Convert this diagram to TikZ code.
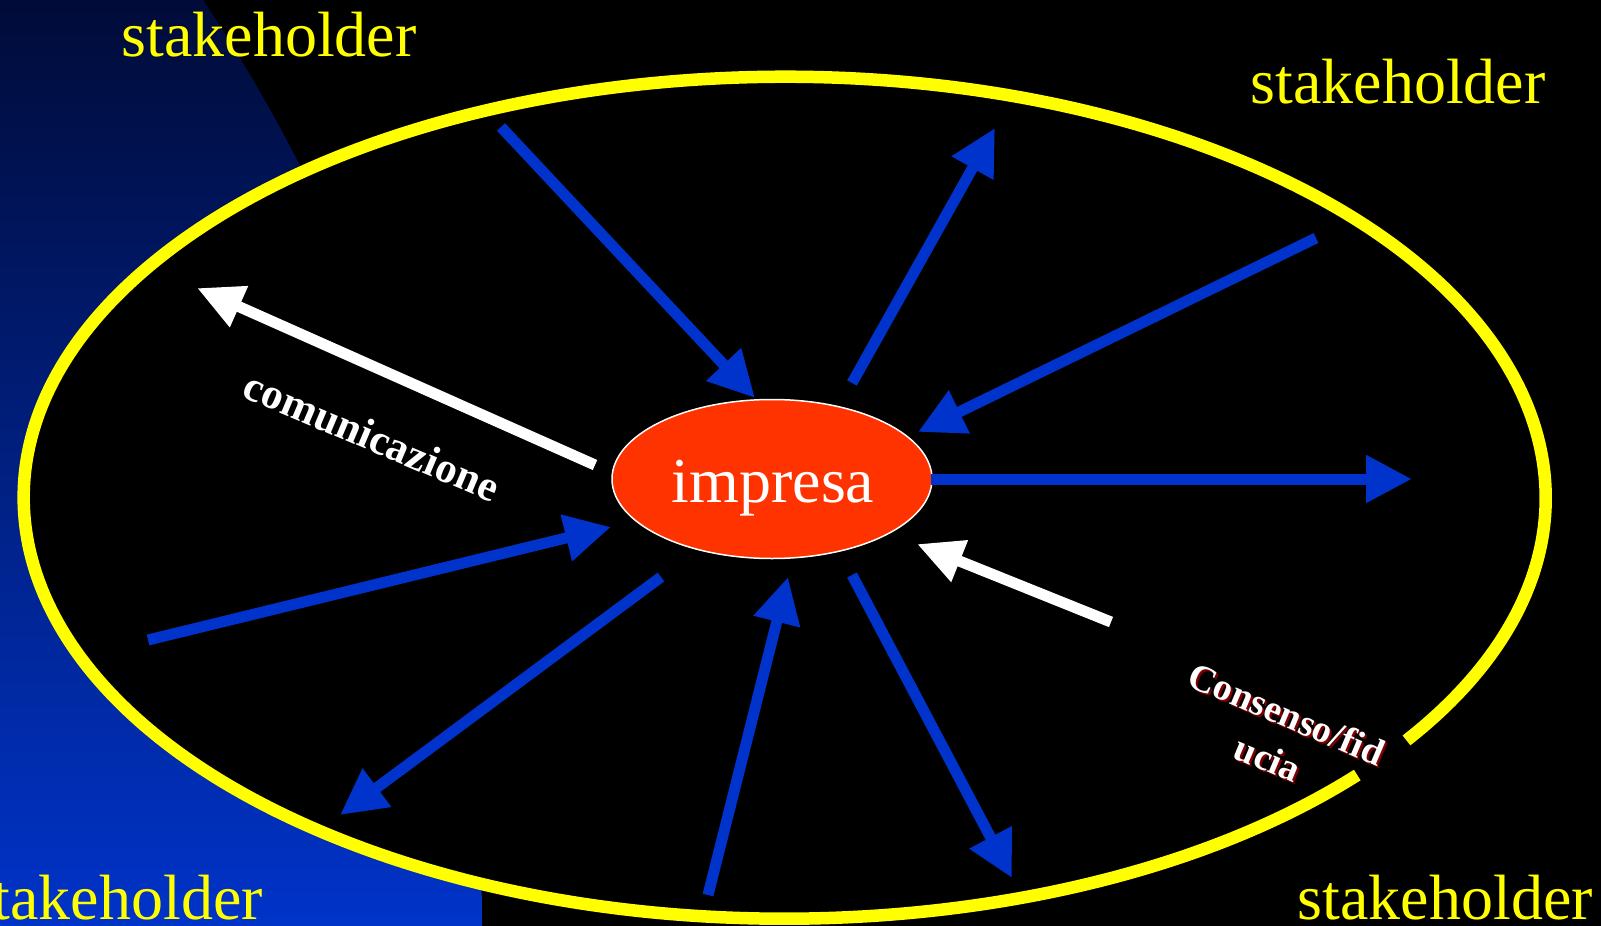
\documentclass[tikz,border=0pt]{standalone}
\usepackage{fontspec}
\setmainfont{Liberation Serif}
\usetikzlibrary{arrows.meta,shapes.geometric}
\definecolor{arrowblue}{HTML}{0033CC}
\definecolor{firmred}{HTML}{FF3300}
\definecolor{ringyellow}{HTML}{FFFF00}
\definecolor{navytop}{HTML}{000B38}
\definecolor{navybottom}{HTML}{0033C8}
\definecolor{shadowred}{HTML}{800000}
\begin{document}
\begin{tikzpicture}[x=1pt,y=-1pt,
  bluearrow/.style={draw=arrowblue, line width=11pt, -{Triangle[length=46pt,width=45pt]}},
  whitearrow/.style={draw=white, line width=11pt, -{Triangle[length=46pt,width=42pt]}},
  stake/.style={text=ringyellow, font=\fontsize{64}{64}\selectfont, inner sep=0pt, anchor=base},
  flowlabel/.style={font=\bfseries\fontsize{38}{48}\selectfont, inner sep=0pt, align=center}]
\useasboundingbox (0,0) rectangle (1601,926);
% background
\fill[black] (0,0) rectangle (1601,926);
\begin{scope}
  \clip (-1194,926) circle[radius=1676pt];
  \shade[top color=navytop, bottom color=navybottom] (0,0) rectangle (520,926);
\end{scope}
% big ring
\fill[black] (781,500) ellipse[x radius=761pt, y radius=421pt];
\draw[ringyellow, line width=12.5pt] (1406.5,740.4) arc[start angle=-35.2, end angle=318.8, x radius=761pt, y radius=421pt];
% central node
\node[ellipse, fill=firmred, draw=white, line width=1.5pt, minimum width=320pt, minimum height=159pt, inner sep=0pt] (firm) at (772,479) {};
\node[text=white, font=\fontsize{64}{64}\selectfont, inner sep=0pt, anchor=base] (firmlabel) at (773,502) {impresa};
% arrow end points
\coordinate (a1s) at (501,127);  \coordinate (a1e) at (755,398);
\coordinate (a2s) at (852,383);  \coordinate (a2e) at (995,128);
\coordinate (a3s) at (1316,238); \coordinate (a3e) at (918,432);
\coordinate (a4s) at (931,479);  \coordinate (a4e) at (1412,479);
\coordinate (a5s) at (148,640);  \coordinate (a5e) at (611,527);
\coordinate (a6s) at (661,577);  \coordinate (a6e) at (340,815);
\coordinate (a7s) at (708,895);  \coordinate (a7e) at (788,577);
\coordinate (a8s) at (852,575);  \coordinate (a8e) at (1012,878);
\coordinate (w1s) at (595,465);  \coordinate (w1e) at (197,288);
\coordinate (w2s) at (1111,622); \coordinate (w2e) at (917,544);
% blue arrows
\draw[bluearrow] (a1s) -- (a1e);
\draw[bluearrow] (a2s) -- (a2e);
\draw[bluearrow] (a3s) -- (a3e);
\draw[bluearrow] (a4s) -- (a4e);
\draw[bluearrow] (a5s) -- (a5e);
\draw[bluearrow] (a6s) -- (a6e);
\draw[bluearrow] (a7s) -- (a7e);
\draw[bluearrow] (a8s) -- (a8e);
% white arrows
\draw[whitearrow] (w1s) -- (w1e);
\draw[whitearrow] (w2s) -- (w2e);
% labels
\node[flowlabel, font=\bfseries\fontsize{43}{48}\selectfont, text=white, rotate=-23] (comm) at (372,436) {comunicazione};
\node[flowlabel, text=shadowred, rotate=-23] (trustshadow) at (1279.5,738) {Consenso/fid\\ucia};
\node[flowlabel, text=white, rotate=-23] (trust) at (1277.5,736) {Consenso/fid\\ucia};
% stakeholders
\node[stake] (sh1) at (269,56) {stakeholder};
\node[stake] (sh2) at (1398,103) {stakeholder};
\node[stake, anchor=base east] (sh3) at (263,919) {stakeholder};
\node[stake, anchor=base east] (sh4) at (1593,919) {stakeholder};
\end{tikzpicture}
\end{document}
